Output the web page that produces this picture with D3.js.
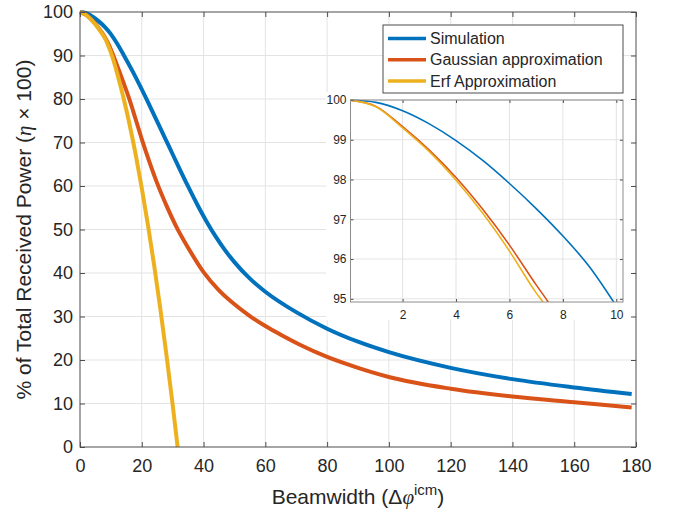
<!DOCTYPE html>
<html>
<head>
<meta charset="utf-8">
<script src="https://cdn.jsdelivr.net/npm/d3@7"></script>
<style>
  body { margin: 0; background: #fff; }
  svg text { font-family: "Liberation Sans", Arial, Helvetica, sans-serif; fill: #262626; }
</style>
</head>
<body>
<svg id="chart" width="676" height="510"></svg>
<script>
// series: beamwidth (x) and % received power (y)
const simBeam = [0, 2, 4, 6, 8, 10, 12, 14, 17, 20, 23, 26, 29, 32, 35, 38, 41, 44, 47, 50, 55, 60, 70, 80, 90, 100, 120, 140, 160, 178.6];
const simPower = [100, 99.73, 98.98, 97.9, 96.58, 94.92, 92.75, 90.3, 86.4, 82.2, 77.8, 73.3, 68.8, 64.3, 59.9, 55.7, 51.8, 48.3, 45.2, 42.5, 38.7, 35.7, 31.0, 27.2, 24.2, 21.8, 18.2, 15.6, 13.7, 12.2];

const gaussBeam = [0, 2, 4, 6, 7, 8, 9, 10, 11, 12.5, 14, 16, 18, 20, 22.5, 25, 28, 31.5, 35, 40, 45, 50, 55, 60, 65, 71.2, 80, 90, 100, 120, 140, 160, 178.6];
const gaussPower = [100, 99.33, 98.05, 96.35, 95.35, 94.25, 92.95, 91.4, 89.6, 86.8, 83.9, 79.9, 75.4, 70.8, 65.5, 60.6, 55.5, 50.2, 45.8, 40.2, 36.0, 32.8, 30.1, 27.8, 25.8, 23.5, 20.7, 18.2, 16.1, 13.4, 11.6, 10.3, 9.1];

const erfBeam = [0, 2, 4, 6, 7, 8, 9, 10, 12, 14, 16, 18, 20, 22, 24, 26, 28, 30, 31.6];
const erfPower = [100, 99.3, 97.98, 96.2, 95.15, 94.05, 92.55, 90.7, 86.0, 80.5, 74.3, 67.3, 59.5, 51.0, 41.8, 31.8, 21.1, 9.7, 0];

// inset (zoom on the first 10 degrees)
const insetSimBeam = [0, 1, 2, 3, 4, 5, 6, 7, 8, 9, 9.9, 10.3];
const insetSimPower = [100, 99.94, 99.73, 99.4, 98.98, 98.48, 97.9, 97.27, 96.58, 95.8, 94.92, 94.5];
const insetGaussBeam = [0, 1, 2, 3, 4, 5, 6, 7, 7.45, 7.8];
const insetGaussPower = [100, 99.84, 99.33, 98.74, 98.05, 97.25, 96.35, 95.35, 94.92, 94.55];
const insetErfBeam = [0, 1, 2, 3, 4, 5, 6, 7, 7.25, 7.6];
const insetErfPower = [100, 99.83, 99.3, 98.7, 97.98, 97.15, 96.2, 95.15, 94.92, 94.55];

const xTicks = [0, 20, 40, 60, 80, 100, 120, 140, 160, 180];
const yTicks = [0, 10, 20, 30, 40, 50, 60, 70, 80, 90, 100];
const insetXTicks = [2, 4, 6, 8, 10];
const insetYTicks = [95, 96, 97, 98, 99, 100];

const seriesNames = ['Simulation', 'Gaussian approximation', 'Erf Approximation'];
const colors = ['#0072bd', '#d95319', '#edb120'];

const svg = d3.select('#chart');
svg.append('rect').attr('width', 676).attr('height', 510).attr('fill', '#fff');

const x = d3.scaleLinear().domain([0, 180]).range([80, 636]);
const y = d3.scaleLinear().domain([0, 100]).range([447, 12]);

const zip = (xs, ys) => xs.map((v, i) => [v, ys[i]]);

// grid
const grid = svg.append('g').attr('stroke', '#e3e3e3').attr('stroke-width', 1);
grid.selectAll('.vg').data(xTicks.slice(1, -1)).enter().append('line')
  .attr('x1', d => x(d)).attr('x2', d => x(d)).attr('y1', y(0)).attr('y2', y(100));
grid.selectAll('.hg').data(yTicks.slice(1, -1)).enter().append('line')
  .attr('y1', d => y(d)).attr('y2', d => y(d)).attr('x1', x(0)).attr('x2', x(180));

// main curves
const line = d3.line().x(d => x(d[0])).y(d => y(d[1])).curve(d3.curveMonotoneX);
const mainData = [zip(simBeam, simPower), zip(gaussBeam, gaussPower), zip(erfBeam, erfPower)];
svg.append('g').selectAll('path').data(mainData).enter().append('path')
  .attr('d', line)
  .attr('fill', 'none')
  .attr('stroke', (d, i) => colors[i])
  .attr('stroke-width', 4);

// axes
function styleAxis(g) {
  g.select('.domain').remove();
  g.selectAll('.tick line').attr('stroke', '#4d4d4d');
  g.selectAll('.tick text').attr('fill', '#262626');
}
svg.append('g').attr('transform', `translate(0,${y(0)})`)
  .call(d3.axisBottom(x).tickValues(xTicks).tickSizeInner(-5).tickSizeOuter(0).tickPadding(12))
  .call(styleAxis).attr('font-size', 18).attr('font-family', null);
svg.append('g').attr('transform', `translate(0,${y(100)})`)
  .call(d3.axisTop(x).tickValues(xTicks).tickSizeInner(-5).tickSizeOuter(0).tickFormat(''))
  .call(styleAxis);
svg.append('g').attr('transform', `translate(${x(0)},0)`)
  .call(d3.axisLeft(y).tickValues(yTicks).tickSizeInner(-5).tickSizeOuter(0).tickPadding(7))
  .call(styleAxis).attr('font-size', 18).attr('font-family', null);

// white backdrop of the inset
svg.append('rect').attr('x', 326).attr('y', 92).attr('width', 308).attr('height', 228).attr('fill', '#fff');

svg.append('g').attr('transform', `translate(${x(180)},0)`)
  .call(d3.axisRight(y).tickValues(yTicks).tickSizeInner(-5).tickSizeOuter(0).tickFormat(''))
  .call(styleAxis);

svg.append('rect')
  .attr('x', x(0)).attr('y', y(100)).attr('width', x(180) - x(0)).attr('height', y(0) - y(100))
  .attr('fill', 'none').attr('stroke', '#4d4d4d').attr('stroke-width', 1);

// axis titles
svg.append('text')
  .attr('x', (x(0) + x(180)) / 2).attr('y', 504)
  .attr('text-anchor', 'middle').attr('font-size', 21)
  .call(t => {
    t.append('tspan').text('Beamwidth (Δ');
    t.append('tspan').attr('font-style', 'italic').attr('font-family', '"Liberation Serif", serif').text('φ');
    t.append('tspan').attr('font-size', 15).attr('dy', -9).text('icm');
    t.append('tspan').attr('dy', 9).text(')');
  });

svg.append('text')
  .attr('transform', `translate(31,${(y(0) + y(100)) / 2}) rotate(-90)`)
  .attr('text-anchor', 'middle').attr('font-size', 21)
  .call(t => {
    t.append('tspan').text('% of Total Received Power (');
    t.append('tspan').attr('font-style', 'italic').attr('font-family', '"Liberation Serif", serif').text('η');
    t.append('tspan').text(' × 100)');
  });

// inset axes
const ix = d3.scaleLinear().domain([0.05, 10.25]).range([350.5, 623]);
const iy = d3.scaleLinear().domain([94.92, 100]).range([302, 100]);
const inset = svg.append('g');

inset.append('clipPath').attr('id', 'insetClip')
  .append('rect').attr('x', ix.range()[0]).attr('y', iy.range()[1] - 1)
  .attr('width', ix.range()[1] - ix.range()[0]).attr('height', iy.range()[0] - iy.range()[1] + 1);

const igrid = inset.append('g').attr('stroke', '#e3e3e3').attr('stroke-width', 1);
igrid.selectAll('.vg').data(insetXTicks).enter().append('line')
  .attr('x1', d => ix(d)).attr('x2', d => ix(d)).attr('y1', iy.range()[0]).attr('y2', iy.range()[1]);
igrid.selectAll('.hg').data(insetYTicks).enter().append('line')
  .attr('y1', d => iy(d)).attr('y2', d => iy(d)).attr('x1', ix.range()[0]).attr('x2', ix.range()[1]);

const iline = d3.line().x(d => ix(d[0])).y(d => iy(d[1])).curve(d3.curveMonotoneX);
const insetData = [
  zip(insetSimBeam, insetSimPower),
  zip(insetGaussBeam, insetGaussPower),
  zip(insetErfBeam, insetErfPower)
];
inset.append('g').attr('clip-path', 'url(#insetClip)')
  .selectAll('path').data(insetData).enter().append('path')
  .attr('d', iline)
  .attr('fill', 'none')
  .attr('stroke', (d, i) => colors[i])
  .attr('stroke-width', 1.6);

const intFmt = d3.format('d');
inset.append('g').attr('transform', `translate(0,${iy.range()[0]})`)
  .call(d3.axisBottom(ix).tickValues(insetXTicks).tickFormat(intFmt).tickSizeInner(-3).tickSizeOuter(0).tickPadding(8))
  .call(styleAxis).attr('font-size', 12).attr('font-family', null);
inset.append('g').attr('transform', `translate(0,${iy.range()[1]})`)
  .call(d3.axisTop(ix).tickValues(insetXTicks).tickSizeInner(-3).tickSizeOuter(0).tickFormat(''))
  .call(styleAxis);
inset.append('g').attr('transform', `translate(${ix.range()[0]},0)`)
  .call(d3.axisLeft(iy).tickValues(insetYTicks).tickFormat(intFmt).tickSizeInner(-3).tickSizeOuter(0).tickPadding(4))
  .call(styleAxis).attr('font-size', 12).attr('font-family', null);
inset.append('g').attr('transform', `translate(${ix.range()[1]},0)`)
  .call(d3.axisRight(iy).tickValues(insetYTicks).tickSizeInner(-3).tickSizeOuter(0).tickFormat(''))
  .call(styleAxis);
inset.append('rect')
  .attr('x', ix.range()[0]).attr('y', iy.range()[1])
  .attr('width', ix.range()[1] - ix.range()[0]).attr('height', iy.range()[0] - iy.range()[1])
  .attr('fill', 'none').attr('stroke', '#8c8c8c').attr('stroke-width', 1);

// legend
const legend = svg.append('g').attr('transform', 'translate(383,25)');
legend.append('rect').attr('width', 240).attr('height', 68)
  .attr('fill', '#fff').attr('stroke', '#4d4d4d').attr('stroke-width', 1);
const rows = legend.selectAll('.row').data(seriesNames).enter().append('g')
  .attr('transform', (d, i) => `translate(0,${13.5 + i * 21.3})`);
rows.append('line').attr('x1', 5).attr('x2', 43)
  .attr('stroke', (d, i) => colors[i]).attr('stroke-width', 3.5);
rows.append('text').attr('x', 47).attr('dy', '0.35em').attr('font-size', 16).text(d => d);
</script>
</body>
</html>
